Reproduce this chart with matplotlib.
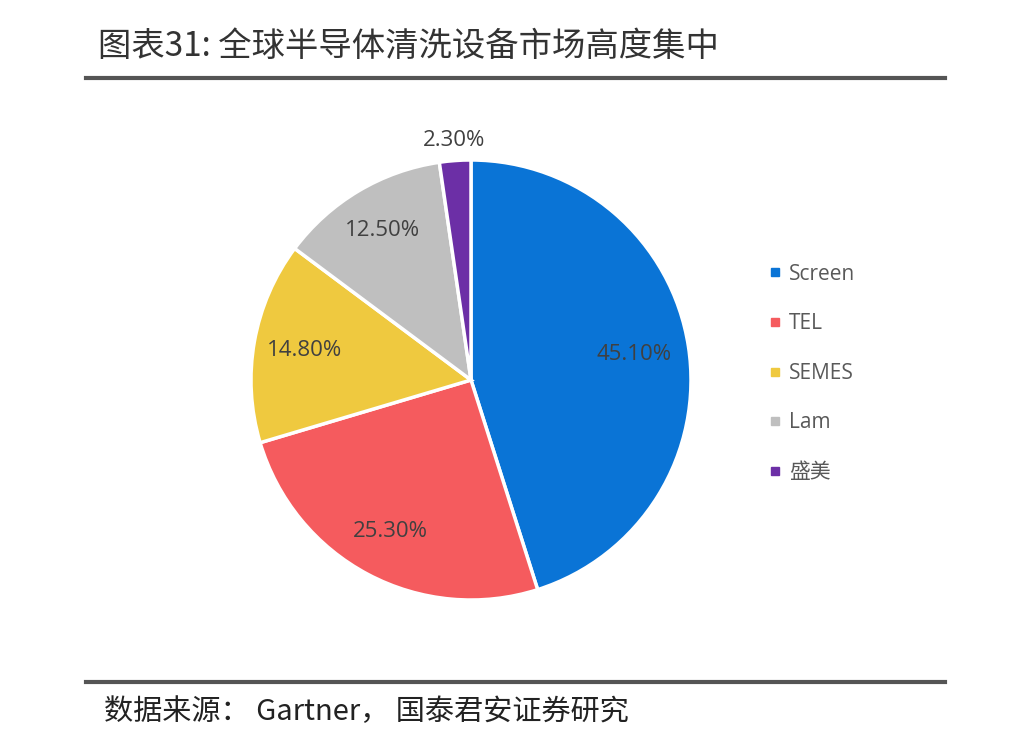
import numpy as np
import matplotlib
matplotlib.use("Agg")
import matplotlib.pyplot as plt
from matplotlib.lines import Line2D

plt.rcParams['font.family'] = ['Open Sans', 'Noto Sans CJK SC', 'DejaVu Sans']

title = "图表31: 全球半导体清洗设备市场高度集中"
source = "数据来源： Gartner， 国泰君安证券研究"
categories = ["Screen", "TEL", "SEMES", "Lam", "盛美"]
values = [45.1, 25.3, 14.8, 12.5, 2.3]
colors = ["#0A74D6", "#F55B5E", "#EFC93F", "#BFBFBF", "#6C2FA6"]
label_dist = [0.75, 0.78, 0.77, 0.79, 1.09]

W, H = 1024, 752
fig = plt.figure(figsize=(W / 100, H / 100), dpi=100)
fig.patch.set_facecolor("white")

# title
fig.text(98 / W, 1 - 46 / H, title, fontsize=24, color="#333333",
         family=['Noto Sans CJK SC', 'DejaVu Sans'], va="center", ha="left")
fig.add_artist(Line2D([86 / W, 945 / W], [1 - 78 / H, 1 - 78 / H],
                      transform=fig.transFigure, color="#555555", lw=3))
fig.add_artist(Line2D([86 / W, 945 / W], [1 - 682 / H, 1 - 682 / H],
                      transform=fig.transFigure, color="#555555", lw=3))
fig.text(104 / W, 1 - 712 / H, source, fontsize=21, color="#222222",
         family=['Noto Sans CJK SC', 'DejaVu Sans'], va="center", ha="left")

# pie
cx, cy, r = 471, 380, 220
ax = fig.add_axes([(cx - r) / W, (H - cy - r) / H, 2 * r / W, 2 * r / H])
wedges, _ = ax.pie(values, colors=colors, startangle=90, counterclock=False,
                   wedgeprops=dict(edgecolor="white", linewidth=2.5))
ax.set_xlim(-1, 1)
ax.set_ylim(-1, 1)
ax.set_aspect("equal")
ax.axis("off")

for w, v, d in zip(wedges, values, label_dist):
    ang = np.deg2rad((w.theta1 + w.theta2) / 2)
    ax.text(d * np.cos(ang), d * np.sin(ang), f"{v:.2f}%", ha="center", va="center",
            fontsize=16, color="#404040", clip_on=False)

# legend
handles = [Line2D([0], [0], marker="s", linestyle="none", markersize=6,
                  markerfacecolor=c, markeredgecolor=c) for c in colors]
leg = fig.legend(handles, categories, loc="upper left",
                 bbox_to_anchor=(746 / W, 1 - 245 / H), frameon=False,
                 fontsize=15, labelcolor="#595959", handletextpad=0.15,
                 labelspacing=1.37, handlelength=1.0)

fig.savefig("out.png", dpi=100, facecolor="white")
